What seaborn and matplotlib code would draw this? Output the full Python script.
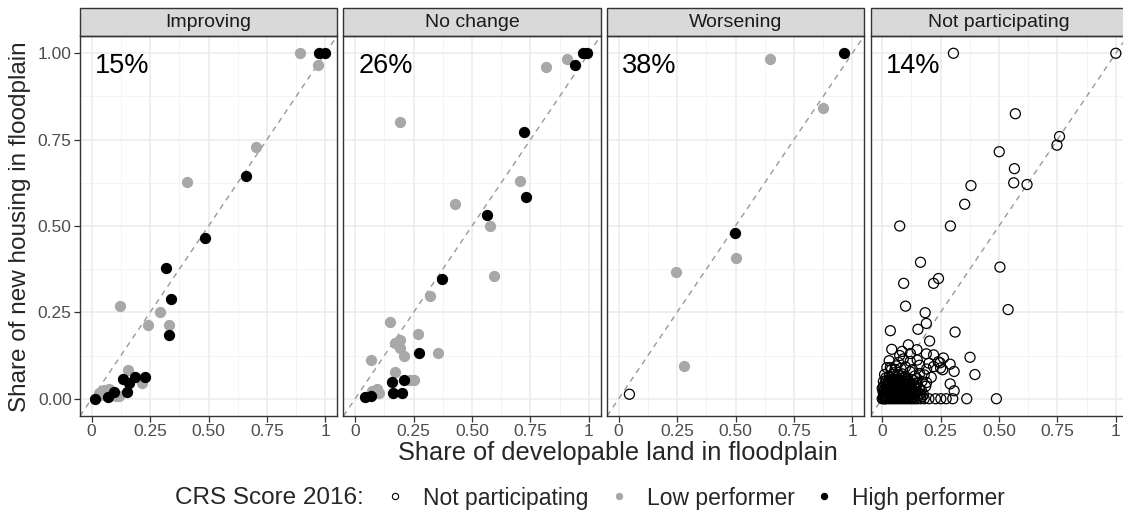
import pandas as pd
import seaborn as sns
import matplotlib.pyplot as plt
from matplotlib.patches import Rectangle
from matplotlib.lines import Line2D

panels = ["Improving", "No change", "Worsening", "Not participating"]
shares = ["15%", "26%", "38%", "14%"]
groups = ["Not participating", "Low performer", "High performer"]

# Improving
imp_low_x = [0.89, 0.969, 0.704, 0.406, 0.12, 0.294, 0.24, 0.333, 0.154, 0.214, 0.033, 0.054, 0.073, 0.104, 0.119, 0.04]
imp_low_y = [1.00, 0.966, 0.729, 0.626, 0.269, 0.250, 0.212, 0.212, 0.083, 0.045, 0.016, 0.026, 0.028, 0.007, 0.009, 0.012]
imp_high_x = [0.971, 1.0, 0.661, 0.484, 0.319, 0.341, 0.33, 0.134, 0.184, 0.23, 0.159, 0.151, 0.096, 0.07, 0.013]
imp_high_y = [1.0, 1.0, 0.646, 0.466, 0.379, 0.289, 0.185, 0.057, 0.063, 0.063, 0.045, 0.019, 0.02, 0.004, 0.0]

# No change
noc_low_x = [0.907, 0.817, 0.193, 0.707, 0.427, 0.576, 0.593, 0.319, 0.151, 0.269, 0.19, 0.171, 0.193, 0.207,
             0.354, 0.066, 0.171, 0.236, 0.25, 0.071, 0.093, 0.104, 0.079]
noc_low_y = [0.984, 0.959, 0.800, 0.629, 0.564, 0.500, 0.356, 0.297, 0.221, 0.188, 0.171, 0.162, 0.147, 0.125,
             0.131, 0.111, 0.078, 0.055, 0.055, 0.023, 0.028, 0.018, 0.021]
noc_high_x = [0.974, 0.993, 0.94, 0.724, 0.733, 0.566, 0.371, 0.273, 0.157, 0.211, 0.164, 0.201, 0.044, 0.067]
noc_high_y = [1.0, 1.0, 0.967, 0.773, 0.585, 0.531, 0.348, 0.133, 0.048, 0.055, 0.018, 0.018, 0.004, 0.007]

# Worsening
wor_low_x = [0.646, 0.874, 0.5, 0.247, 0.281]
wor_low_y = [0.984, 0.843, 0.406, 0.366, 0.096]
wor_high_x = [0.963, 0.499]
wor_high_y = [1.0, 0.479]
wor_none_x = [0.046]
wor_none_y = [0.013]

# Not participating
nop_x = [0.305, 1.0, 0.570, 0.759, 0.748, 0.501, 0.566, 0.563, 0.62, 0.38, 0.353, 0.075, 0.292, 0.504, 0.164,
         0.241, 0.22, 0.092, 0.1, 0.539, 0.184, 0.189, 0.153, 0.312, 0.035, 0.203, 0.112, 0.041, 0.149, 0.085,
         0.121, 0.189, 0.22, 0.376, 0.262, 0.075, 0.291, 0.248, 0.308, 0.397, 0.259, 0.291, 0.308,
         # row on zero
         0.0, 0.005, 0.01, 0.015, 0.02, 0.03, 0.04, 0.05, 0.06, 0.07, 0.08, 0.09, 0.10, 0.11, 0.12, 0.13,
         0.14, 0.15, 0.165, 0.18, 0.20, 0.228, 0.251, 0.274, 0.302, 0.362, 0.489,
         # dense cluster
         0.01, 0.02, 0.03, 0.04, 0.05, 0.06, 0.07, 0.08, 0.09, 0.10, 0.11, 0.12, 0.13, 0.14,
         0.0, 0.02, 0.035, 0.05, 0.065, 0.08, 0.095, 0.11, 0.125, 0.14, 0.16,
         0.005, 0.025, 0.04, 0.06, 0.075, 0.09, 0.105, 0.12, 0.135, 0.15, 0.17, 0.19,
         0.01, 0.03, 0.05, 0.07, 0.085, 0.10, 0.12, 0.14, 0.16, 0.18, 0.21,
         0.02, 0.04, 0.06, 0.08, 0.10, 0.13, 0.16, 0.19, 0.22, 0.25,
         0.03, 0.07, 0.09, 0.12, 0.15, 0.20, 0.24,
         0.015, 0.045, 0.055, 0.065, 0.085, 0.095, 0.115, 0.045, 0.055, 0.075, 0.035, 0.025, 0.085, 0.105,
         0.065, 0.045, 0.095, 0.115, 0.135, 0.055, 0.075, 0.035, 0.015, 0.105, 0.125, 0.145, 0.065,
         # solid core
         0.012, 0.022, 0.032, 0.042, 0.052, 0.062, 0.072, 0.082, 0.092, 0.102, 0.112, 0.122, 0.132,
         0.007, 0.017, 0.027, 0.037, 0.047, 0.057, 0.067, 0.077, 0.087, 0.097, 0.107, 0.117, 0.127,
         0.004, 0.014, 0.024, 0.034, 0.044, 0.054, 0.064, 0.074, 0.084, 0.094, 0.104, 0.114, 0.124, 0.138,
         0.009, 0.019, 0.029, 0.039, 0.049, 0.059, 0.069, 0.079, 0.089, 0.099, 0.109, 0.119, 0.131,
         0.006, 0.016, 0.026, 0.036, 0.046, 0.056, 0.066, 0.076, 0.086, 0.096, 0.108, 0.118,
         0.011, 0.021, 0.031, 0.041, 0.051, 0.061, 0.071, 0.081, 0.091, 0.101, 0.113,
         0.018, 0.028, 0.038, 0.048, 0.058, 0.068, 0.078, 0.088, 0.098,
         0.153, 0.162, 0.171, 0.158, 0.168, 0.177, 0.186, 0.143, 0.149]
nop_y = [1.0, 1.0, 0.825, 0.759, 0.734, 0.715, 0.666, 0.625, 0.62, 0.617, 0.563, 0.5, 0.5, 0.381, 0.395,
         0.348, 0.334, 0.334, 0.268, 0.258, 0.249, 0.218, 0.201, 0.193, 0.197, 0.167, 0.156, 0.143, 0.142, 0.137,
         0.131, 0.13, 0.127, 0.12, 0.118, 0.125, 0.1, 0.104, 0.079, 0.07, 0.084, 0.043, 0.023,
         0.0, 0.0, 0.0, 0.0, 0.0, 0.0, 0.0, 0.0, 0.0, 0.0, 0.0, 0.0, 0.0, 0.0, 0.0, 0.0,
         0.0, 0.0, 0.0, 0.0, 0.0, 0.0, 0.0, 0.0, 0.0, 0.0, 0.0,
         0.012, 0.008, 0.015, 0.01, 0.006, 0.018, 0.012, 0.009, 0.014, 0.007, 0.016, 0.011, 0.006, 0.013,
         0.03, 0.025, 0.035, 0.028, 0.032, 0.024, 0.038, 0.03, 0.026, 0.034, 0.029,
         0.05, 0.045, 0.055, 0.048, 0.052, 0.042, 0.057, 0.046, 0.053, 0.044, 0.05, 0.047,
         0.07, 0.065, 0.075, 0.068, 0.072, 0.064, 0.078, 0.066, 0.073, 0.069, 0.062,
         0.09, 0.085, 0.095, 0.088, 0.092, 0.084, 0.097, 0.086, 0.093, 0.089,
         0.11, 0.105, 0.115, 0.108, 0.112, 0.103, 0.107,
         0.022, 0.02, 0.04, 0.01, 0.04, 0.06, 0.03, 0.03, 0.012, 0.02, 0.062, 0.04, 0.02, 0.04,
         0.045, 0.07, 0.06, 0.05, 0.04, 0.085, 0.055, 0.09, 0.06, 0.025, 0.02, 0.02, 0.005,
         0.004, 0.004, 0.004, 0.004, 0.004, 0.004, 0.004, 0.004, 0.004, 0.004, 0.004, 0.004, 0.004,
         0.011, 0.011, 0.011, 0.011, 0.011, 0.011, 0.011, 0.011, 0.011, 0.011, 0.011, 0.011, 0.011,
         0.019, 0.019, 0.019, 0.019, 0.019, 0.019, 0.019, 0.019, 0.019, 0.019, 0.019, 0.019, 0.019, 0.019,
         0.027, 0.027, 0.027, 0.027, 0.027, 0.027, 0.027, 0.027, 0.027, 0.027, 0.027, 0.027, 0.027,
         0.035, 0.035, 0.035, 0.035, 0.035, 0.035, 0.035, 0.035, 0.035, 0.035, 0.035, 0.035,
         0.043, 0.043, 0.043, 0.043, 0.043, 0.043, 0.043, 0.043, 0.043, 0.043, 0.043,
         0.052, 0.052, 0.052, 0.052, 0.052, 0.052, 0.052, 0.052, 0.052,
         0.008, 0.015, 0.006, 0.03, 0.024, 0.012, 0.036, 0.045, 0.058]

frames = []
for panel, grp, xs, ys in [
    ("Improving", "Low performer", imp_low_x, imp_low_y),
    ("Improving", "High performer", imp_high_x, imp_high_y),
    ("No change", "Low performer", noc_low_x, noc_low_y),
    ("No change", "High performer", noc_high_x, noc_high_y),
    ("Worsening", "Not participating", wor_none_x, wor_none_y),
    ("Worsening", "Low performer", wor_low_x, wor_low_y),
    ("Worsening", "High performer", wor_high_x, wor_high_y),
    ("Not participating", "Not participating", nop_x, nop_y),
]:
    frames.append(pd.DataFrame({"panel": panel, "group": grp, "land": xs, "housing": ys}))
df = pd.concat(frames, ignore_index=True)

sns.set_theme(style="whitegrid", rc={
    "grid.color": "#ebebeb",
    "axes.edgecolor": "#333333",
    "axes.linewidth": 1.0,
    "xtick.color": "#333333",
    "ytick.color": "#333333",
})
plt.rcParams["font.family"] = ["Liberation Sans", "DejaVu Sans"]

# hollow rings for non-participants (like ggplot shape 1)
fill = {"Not participating": "none", "Low performer": "#a8a8a8", "High performer": "black"}
edge = {"Not participating": "black", "Low performer": "#a8a8a8", "High performer": "black"}


def draw(data, **kws):
    ax = plt.gca()
    ax.axline((0, 0), slope=1, color="#999999", lw=1.0, ls=(0, (4, 3.5)), zorder=1)
    for grp in groups:
        sub = data[data["group"] == grp]
        if len(sub) == 0:
            continue
        sns.scatterplot(data=sub, x="land", y="housing", color=edge[grp], facecolor=fill[grp],
                        edgecolor=edge[grp], s=52, linewidth=0.9, ax=ax, zorder=3, legend=False)


g = sns.FacetGrid(df, col="panel", col_order=panels, despine=False, sharex=True, sharey=True)
g.map_dataframe(draw)
g.figure.set_size_inches(11.23, 5.15)
g.figure.subplots_adjust(left=80 / 1123, right=1127.5 / 1123, bottom=1 - 416 / 515, top=1 - 36 / 515,
                         wspace=6.5 / 257)
g.set_titles("")
g.set_axis_labels("", "")

ticks = [0, 0.25, 0.5, 0.75, 1]
for i, ax in enumerate(g.axes.flat):
    ax.set_xlim(-0.05, 1.05)
    ax.set_ylim(-0.05, 1.05)
    ax.set_xticks(ticks)
    ax.set_xticklabels(["0", "0.25", "0.50", "0.75", "1"])
    ax.set_yticks(ticks)
    ax.set_yticklabels(["0.00", "0.25", "0.50", "0.75", "1.00"])
    ax.set_xticks([0.125, 0.375, 0.625, 0.875], minor=True)
    ax.set_yticks([0.125, 0.375, 0.625, 0.875], minor=True)
    ax.grid(which="major", color="#ebebeb", lw=1.1)
    ax.grid(which="minor", color="#f2f2f2", lw=0.6)
    ax.tick_params(which="major", length=4, width=0.9, labelsize=12.5, labelcolor="#4d4d4d",
                   bottom=True, left=(i == 0), pad=2)
    ax.tick_params(which="minor", length=0)
    if i > 0:
        ax.tick_params(labelleft=False)
    ax.set_axisbelow(True)
    for sp in ax.spines.values():
        sp.set_color("#333333")
        sp.set_linewidth(1.0)
    strip = Rectangle((0, 1.0), 1, 28 / 380, transform=ax.transAxes, facecolor="#d9d9d9",
                      edgecolor="#333333", lw=1.0, clip_on=False)
    ax.add_patch(strip)
    ax.text(0.5, 1.0 + 14 / 380, panels[i], transform=ax.transAxes, ha="center", va="center",
            fontsize=14, color="#1a1a1a")
    ax.text(0.015, 0.962, shares[i], ha="left", va="center", fontsize=19.5, color="black")

fig = g.figure
fig.text(20 / 1123, 1 - 227 / 515, "Share of new housing in floodplain", rotation=90,
         ha="center", va="center", fontsize=17.5)
fig.text(618 / 1123, 1 - 453 / 515, "Share of developable land in floodplain",
         ha="center", va="center", fontsize=18.3)
fig.text(175 / 1123, 1 - 498 / 515, "CRS Score 2016:", ha="left", va="center", fontsize=17.5)

handles = [Line2D([], [], ls="", marker="o", markersize=4.5, markerfacecolor=fill[k],
                  markeredgecolor=edge[k], markeredgewidth=0.8) for k in groups]
fig.legend(handles, groups, loc="center left", bbox_to_anchor=(384 / 1123, 1 - 498 / 515), ncol=3,
           frameon=False, fontsize=16.5, handlelength=1.0, handletextpad=0.72, columnspacing=0.8,
           borderaxespad=0, borderpad=0)

fig.savefig("out.png", dpi=100)
